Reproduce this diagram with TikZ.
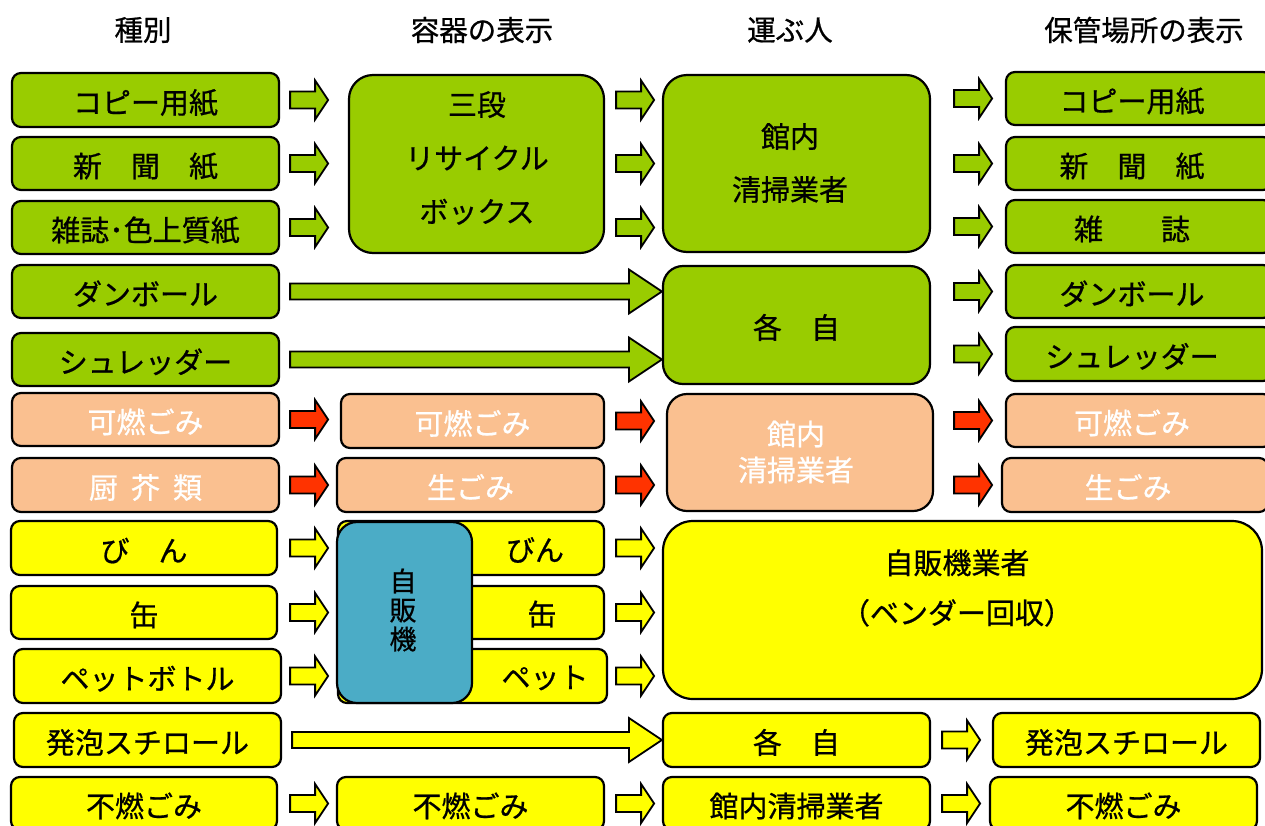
\documentclass[tikz,border=0pt]{standalone}
\usepackage{fontspec}
\setmainfont{Noto Sans CJK JP}[FakeBold=0.7]
\usetikzlibrary{calc}
\definecolor{grn}{HTML}{99CC00}
\definecolor{pch}{HTML}{FAC090}
\definecolor{ylw}{HTML}{FFFF00}
\definecolor{blu}{HTML}{4BACC6}
\definecolor{redar}{HTML}{FF3300}
% box by corners: name, style, x1, y1, x2, y2, text
\newcommand\bx[7]{\node[#2, minimum width={(#5)-(#3)}, minimum height={(#6)-(#4)}] (#1) at ({((#3)+(#5))/2},{((#4)+(#6))/2}) {#7};}
% text shifted left by 7pt inside its box
\newcommand\lft[1]{\hspace*{-14pt}#1}
% short block arrow: colour, source, target, y-reference node, gap
\newcommand\sarr[5]{\draw[arrowline, fill=#1] let \p3=($(#2.east)+(#5pt,0pt)$), \p2=(#4.center), \p4=(#3.west) in
 (\x3,\y2+8.5pt) -- (\x3+25pt,\y2+8.5pt) -- (\x3+25pt,\y2+19.5pt) -- (\x3+38pt,\y2) -- (\x3+25pt,\y2-19.5pt) -- (\x3+25pt,\y2-8.5pt) -- (\x3,\y2-8.5pt) -- cycle;}
% long block arrow: colour, source, target
\newcommand\larr[3]{\draw[arrowline, fill=#1] let \p1=($(#2.east)+(10pt,0pt)$), \p2=(#3.west) in
 (\x1,\y1+8pt) -- (\x2-33pt,\y1+8pt) -- (\x2-33pt,\y1+22pt) -- (\x2,\y1) -- (\x2-33pt,\y1-22pt) -- (\x2-33pt,\y1-8pt) -- (\x1,\y1-8pt) -- cycle;}
\begin{document}
\begin{tikzpicture}[x=1pt,y=-1pt,
 box/.style={draw=black, line width=2.2pt, rounded corners=9pt, inner sep=0pt, font=\fontsize{29}{31}\selectfont, text height=28pt, text depth=1pt},
 gbox/.style={box, fill=grn},
 pbox/.style={box, fill=pch, text=white},
 ybox/.style={box, fill=ylw},
 big/.style={rounded corners=24pt},
 hdr/.style={font=\fontsize{28.5}{30}\selectfont, inner sep=0pt},
 txt/.style={font=\fontsize{29}{31}\selectfont, inner sep=0pt, align=center},
 arrowline/.style={draw=black, line width=1.8pt, line join=miter}]
\useasboundingbox (0,0) rectangle (1265,825);
\clip (0,0) rectangle (1265,825);
% headers
\node[hdr] (h1) at (143,30) {種別};
\node[hdr] (h2) at (482,30) {容器の表示};
\node[hdr] (h3) at (790,30) {運ぶ人};
\node[hdr] (h4) at (1144,30) {保管場所の表示};
% column 1
\bx{a1}{gbox}{12}{73}{279}{127}{コピー用紙}
\bx{a2}{gbox}{12}{137}{279}{190}{新　聞　紙}
\bx{a3}{gbox}{12}{201}{279}{254}{雑誌･色上質紙}
\bx{a4}{gbox}{12}{265}{279}{318}{ダンボール}
\bx{a5}{gbox}{12}{333}{279}{386}{シュレッダー}
\bx{a6}{pbox}{12}{393}{279}{446}{可燃ごみ}
\bx{a7}{pbox}{12}{458}{279}{512}{厨\hspace{0.45em}芥\hspace{0.45em}類}
\bx{a8}{ybox}{11}{521}{277}{575}{び　ん}
\bx{a9}{ybox}{11}{586}{277}{639}{缶}
\bx{a10}{ybox}{14}{649}{281}{703}{ペットボトル}
\bx{a11}{ybox}{14}{713}{281}{767}{発泡スチロール}
\bx{a12}{ybox}{11}{777}{277}{830}{不燃ごみ}
% column 2
\bx{b1}{gbox,big}{349}{75}{604}{253}{}
\node[txt, font=\fontsize{29}{53.5}\selectfont] (b1t) at (477,158) {三段\\リサイクル\\ボックス};
\bx{b6}{pbox}{341}{394}{604}{448}{可燃ごみ}
\bx{b7}{pbox}{337}{458}{604}{512}{生ごみ}
\bx{b8}{ybox}{338}{521}{604}{575}{}
\bx{b9}{ybox}{338}{586}{604}{639}{}
\bx{b10}{ybox}{338}{649}{607}{703}{}
\bx{b12}{ybox}{337}{777}{604}{830}{不燃ごみ}
\bx{vm}{box, fill=blu, rounded corners=20pt}{337}{522}{472}{703}{}
\node[txt, font=\fontsize{27}{29}\selectfont] (vmt) at (403,610) {自\\販\\機};
\node[txt] (b8t) at (535,550) {びん};
\node[txt] (b9t) at (542,614) {缶};
\node[txt] (b10t) at (545,678) {ペット};
% column 3
\bx{c1}{gbox,big}{663}{75}{930}{252}{}
\node[txt, font=\fontsize{29}{53}\selectfont] (c1t) at (790,163) {館内\\清掃業者};
\bx{c4}{gbox, rounded corners=20pt}{663}{266}{930}{384}{各　自}
\bx{c6}{pbox, rounded corners=20pt}{667}{394}{933}{511}{}
\node[txt, text=white, font=\fontsize{29}{36}\selectfont] (c6t) at (796,452) {館内\\清掃業者};
\bx{c8}{ybox, rounded corners=30pt}{663}{521}{1262}{699}{}
\node[txt, font=\fontsize{29}{50}\selectfont] (c8t) at (957,588) {自販機業者\\（ベンダー回収）};
\bx{c11}{ybox}{663}{713}{930}{767}{各　自}
\bx{c12}{ybox}{663}{777}{930}{830}{館内清掃業者}
% column 4
\bx{d1}{gbox}{1006}{72}{1272}{125}{\lft{コピー用紙}}
\bx{d2}{gbox}{1006}{137}{1272}{190}{\lft{新　聞　紙}}
\bx{d3}{gbox}{1006}{200}{1272}{253}{\lft{雑　　誌}}
\bx{d4}{gbox}{1006}{265}{1272}{318}{\lft{ダンボール}}
\bx{d5}{gbox}{1006}{327}{1272}{381}{\lft{シュレッダー}}
\bx{d6}{pbox}{1006}{394}{1272}{447}{\lft{可燃ごみ}}
\bx{d7}{pbox}{1002}{458}{1268}{512}{\lft{生ごみ}}
\bx{d11}{ybox}{993}{713}{1260}{767}{発泡スチロール}
\bx{d12}{ybox}{990}{777}{1257}{830}{不燃ごみ}
% arrows column 1 -> 2
\sarr{grn}{a1}{b1}{a1}{10}
\sarr{grn}{a2}{b1}{a2}{10}
\sarr{grn}{a3}{b1}{a3}{10}
\sarr{redar}{a6}{b6}{a6}{10}
\sarr{redar}{a7}{b7}{a7}{10}
\sarr{ylw}{a8}{b8}{a8}{12}
\sarr{ylw}{a9}{b9}{a9}{12}
\sarr{ylw}{a10}{b10}{a10}{8}
\sarr{ylw}{a12}{b12}{a12}{12}
\larr{grn}{a4}{c4}
\larr{grn}{a5}{c4}
\larr{ylw}{a11}{c11}
% arrows column 2 -> 3
\sarr{grn}{b1}{c1}{a1}{11}
\sarr{grn}{b1}{c1}{a2}{11}
\sarr{grn}{b1}{c1}{a3}{11}
\sarr{redar}{b6}{c6}{b6}{11}
\sarr{redar}{b7}{c6}{b7}{11}
\sarr{ylw}{b8}{c8}{b8}{11}
\sarr{ylw}{b9}{c8}{b9}{11}
\sarr{ylw}{b10}{c8}{b10}{8}
\sarr{ylw}{b12}{c12}{b12}{11}
% arrows column 3 -> 4
\sarr{grn}{c1}{d1}{d1}{23}
\sarr{grn}{c1}{d2}{d2}{23}
\sarr{grn}{c1}{d3}{d3}{23}
\sarr{grn}{c4}{d4}{d4}{23}
\sarr{grn}{c4}{d5}{d5}{23}
\sarr{redar}{c6}{d6}{d6}{20}
\sarr{redar}{c6}{d7}{d7}{20}
\sarr{ylw}{c11}{d11}{d11}{11}
\sarr{ylw}{c12}{d12}{d12}{11}
\end{tikzpicture}
\end{document}
